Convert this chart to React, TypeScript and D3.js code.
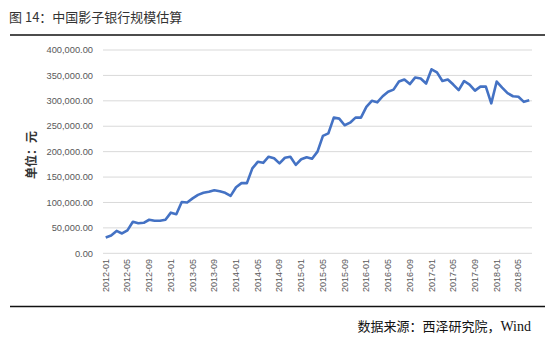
import React from "react";
import * as d3 from "d3";

const months: string[] = [];
for (let y = 2012; y <= 2018; y++) {
  for (let m = 1; m <= 12; m++) {
    if (y === 2018 && m > 7) break;
    months.push(`${y}-${String(m).padStart(2, "0")}`);
  }
}

const values: number[] = [
  31000, 35000, 44000, 39000, 45000, 62000, 59000, 60000, 66000, 64000, 64000, 66000,
  80000, 77000, 101000, 100000, 108000, 115000, 119000, 121000, 124000, 122000, 119000, 113000,
  130000, 138000, 138000, 167000, 180000, 178000, 190000, 187000, 177000, 188000, 190000, 174000,
  185000, 189000, 186000, 200000, 231000, 236000, 267000, 265000, 252000, 257000, 267000, 267000,
  288000, 300000, 297000, 309000, 318000, 322000, 338000, 342000, 333000, 346000, 344000, 334000,
  362000, 356000, 339000, 342000, 332000, 321000, 339000, 332000, 320000, 328000, 328000, 295000,
  338000, 326000, 315000, 309000, 308000, 298000, 301000,
];

const yTicks: number[] = [0, 50000, 100000, 150000, 200000, 250000, 300000, 350000, 400000];

const title = "图 14：中国影子银行规模估算";
const yLabel = "单位：元";
const sourceCn = "数据来源：西泽研究院，";
const sourceEn = "Wind";

export default function App() {
  const W = 550, H = 339;
  const x = d3.scalePoint<string>().domain(months).range([103, 532]).padding(0.5);
  const y = d3.scaleLinear().domain([0, 400000]).range([253.3, 50]);
  const fmt = d3.format(",.2f");
  const line = d3
    .line<number>()
    .x((_, i) => x(months[i]) as number)
    .y((d) => y(d));
  const xTickLabels = months.filter((_, i) => i % 4 === 0);

  return (
    <svg width={W} height={H} style={{ position: "absolute", left: 0, top: 0 }}>
      <rect width={W} height={H} fill="#fff" />
      <text x={9} y={22} fontSize={13} fontFamily="'Noto Sans CJK SC', sans-serif" fill="#333">
        {title}
      </text>
      <line x1={10} x2={545} y1={35} y2={35} stroke="#111" strokeWidth={1.6} />
      {yTicks.map((t) => (
        <g key={t}>
          <line x1={103} x2={532} y1={y(t)} y2={y(t)} stroke="#d9d9d9" strokeWidth={1} />
          <text
            x={93}
            y={y(t)}
            dy="0.35em"
            textAnchor="end"
            fontSize={9.3}
            fontFamily="'Liberation Sans', Arial, sans-serif"
            fill="#595959"
          >
            {fmt(t)}
          </text>
        </g>
      ))}
      {xTickLabels.map((m) => (
        <text
          key={m}
          transform={`translate(${(x(m) as number) + 3},259) rotate(-90)`}
          textAnchor="end"
          fontSize={9}
          fontFamily="'Liberation Sans', Arial, sans-serif"
          fill="#595959"
        >
          {m}
        </text>
      ))}
      <text
        transform="translate(36,155) rotate(-90)"
        textAnchor="middle"
        fontSize={12}
        fontWeight="bold"
        fontFamily="'Noto Sans CJK SC', sans-serif"
        fill="#333"
      >
        {yLabel}
      </text>
      <path d={line(values) || ""} fill="none" stroke="#4472C4" strokeWidth={2.6} strokeLinejoin="round" />
      <line x1={10} x2={545} y1={306.5} y2={306.5} stroke="#111" strokeWidth={1.6} />
      <text
        x={531}
        y={331}
        textAnchor="end"
        fontSize={13}
        fontFamily="'Noto Sans CJK SC', sans-serif"
        fill="#111"
      >
        {sourceCn}
        <tspan fontFamily="'Liberation Serif', 'Times New Roman', serif" fontSize={14}>
          {sourceEn}
        </tspan>
      </text>
    </svg>
  );
}
